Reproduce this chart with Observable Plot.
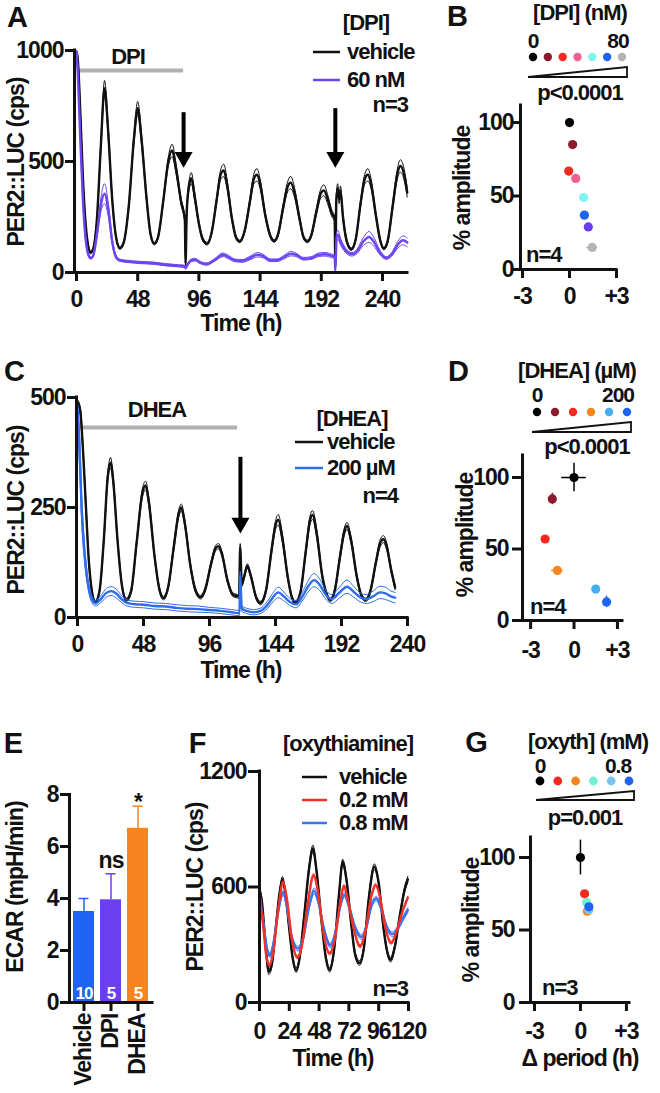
<!DOCTYPE html>
<html><head><meta charset="utf-8">
<script src="https://cdn.jsdelivr.net/npm/d3@7"></script>
<script src="https://cdn.jsdelivr.net/npm/@observablehq/plot@0.6"></script>
<style>
html,body{margin:0;padding:0;background:#fff;}
#fig{position:relative;width:660px;height:1093px;overflow:hidden;font-family:"Liberation Sans",Arial,Helvetica,sans-serif;font-weight:bold;letter-spacing:-1px;color:#111;}
.lbl{position:absolute;white-space:nowrap;line-height:1;}
</style>
</head><body><div id="fig"></div>
<script>
// ---------------- DATA ----------------
// Panel A: PER2::LUC (cps) over time (h); rows are [time, mean, sem]
const aVehicle = [
 [0,995,5],[1,960,10],[3,720,15],[5,430,12],[7,230,10],[9,125,8],[11,90,6],[13,105,6],[16,240,10],[19,560,20],
 [22,830,35],[25,620,25],[28,330,15],[31,160,8],[34,110,6],[37,135,6],[41,300,12],[45,600,20],[48,740,30],[51,600,25],
 [55,330,15],[58,175,8],[61,130,6],[64,160,8],[68,320,12],[72,500,20],[75,550,28],[78,470,22],[82,320,15],[85,235,10],
 [85.5,40,10],[86.5,280,15],[88.5,400,20],[90,425,25],[93,330,18],[96,220,10],[99,150,8],[102.5,130,6],[106,180,8],[110,330,15],
 [113,440,22],[115.5,460,28],[118,400,22],[122,240,12],[125,160,8],[128,140,6],[132,190,8],[136,320,15],[139,420,22],[141.5,440,28],
 [144,400,22],[148,260,12],[152,165,8],[155,142,6],[158,170,8],[162,290,15],[165.5,385,22],[168,405,28],[171,360,22],[175,240,12],
 [178,160,8],[181,140,6],[184,165,8],[188,270,14],[191.5,355,20],[194,370,25],[197,330,20],[200,270,15],[202.5,240,12],[203,30,10],
 [203.8,330,20],[204.8,380,20],[206,330,20],[207,370,20],[209,250,15],[212,140,8],[215.5,105,6],[219,150,8],[223,320,15],[226,420,22],
 [228.5,440,28],[231,400,22],[235,250,12],[238,150,8],[241,108,6],[244,140,8],[248,300,15],[251.5,440,22],[254,480,28],[257,440,25],
 [259.4,360,20]
];
const aDPI = [
 [0,995,5],[1,900,10],[3,600,15],[5,330,12],[7,160,10],[9,85,6],[11,65,5],[13,75,6],[16,170,12],[19,300,30],
 [22,355,45],[25,280,30],[28,140,15],[31,70,8],[34,55,5],[40,50,5],[50,45,5],[60,42,5],[70,35,5],[80,30,5],
 [85,28,5],[85.5,20,5],[87,35,5],[90,55,6],[93,58,6],[97,45,5],[102,38,5],[108,55,6],[115,80,8],[119,70,8],
 [124,55,6],[130,52,6],[136,65,8],[142,80,10],[146,75,8],[152,55,6],[157,55,6],[163,70,8],[168,85,10],[172,80,8],
 [178,62,6],[184,65,6],[190,80,8],[195,82,8],[200,75,8],[202.5,70,8],[203,10,5],[204,160,20],[205,170,20],[207,140,15],
 [211,100,10],[216,82,8],[220,95,10],[225,140,18],[229.5,160,25],[233,140,20],[238,90,10],[243,65,6],[247,80,8],[252,125,15],
 [256,145,20],[259.4,135,20]
];
const aTreatment = [{start: 0.8, end: 84, y: 910}];
const aArrows = [{t: 84, top: 720, tip: 472}, {t: 203, top: 738, tip: 472}];
const aTimeTicks = [0, 48, 96, 144, 192, 240];
const aCpsTicks = [0, 500, 1000];

// Panel B: Δ period (h) vs % amplitude for DPI doses
const bPeriod = [0.0, 0.2, -0.05, 0.4, 0.9, 0.95, 1.2, 1.45];
const bAmp = [100, 85, 67, 62, 49, 37, 29, 15];
const bPeriodErr = [0, 0, 0, 0, 0, 0, 0, 0.35];
const bAmpErr = [0, 0, 0, 0, 0, 0, 0, 0];
const bColors = ["#000000", "#8e1b2b", "#f2291f", "#f0608e", "#80f4f0", "#1f64f0", "#6b3ff0", "#b4b4b4"];
const bLegendColors = ["#000000", "#8e1b2b", "#f2291f", "#f0608e", "#80f4f0", "#1f64f0", "#b4b4b4"];

// Panel C
const cVehicle = [
 [0,490,5],[2,470,8],[4,380,10],[6,260,10],[8,140,8],[10,70,5],[13,35,4],[16,60,5],[19,170,8],[22,320,10],
 [24,352,12],[26,310,10],[29,180,8],[32,80,5],[35.5,40,4],[39,60,5],[43,170,8],[47,280,10],[49.5,300,10],[52,260,10],
 [56,140,6],[59.5,65,5],[62.5,44,4],[66,70,5],[70,160,8],[73.5,235,8],[75.5,250,8],[78,215,8],[82,120,6],[86,60,5],
 [89.5,46,4],[93,65,5],[97,120,6],[100.5,158,6],[102.5,162,6],[105,145,6],[109,85,5],[113,52,4],[117.5,48,4],[118.3,160,8],
 [119.5,75,5],[121,90,5],[123.5,117,5],[126,95,5],[130,45,4],[133,33,4],[137,60,5],[141,150,8],[144,210,10],[146,222,12],
 [149,180,10],[153,90,6],[156,45,4],[158.5,34,4],[162,55,5],[166,150,8],[169,220,10],[171,233,10],[174,190,10],[178,95,6],
 [181,55,4],[184,40,4],[187,60,5],[191,140,8],[194,195,8],[196,208,8],[199,175,8],[203,95,6],[206.5,50,4],[209.5,40,4],
 [213,60,5],[217,125,6],[220,168,8],[222.5,178,8],[225,160,8],[228,110,6],[231,68,5]
];
const cDHEA = [
 [0,470,20],[1.5,380,40],[3,250,30],[5,150,20],[7,90,12],[10,45,8],[13,32,6],[17,42,8],[21,56,10],[24.5,60,10],
 [28,55,10],[32,42,8],[36,33,7],[42,30,7],[48,29,7],[56,26,7],[64,25,7],[72,22,7],[80,20,7],[88,19,7],
 [96,17,6],[104,15,6],[112,12,6],[117.8,10,6],[118.3,95,10],[119.5,20,6],[123,15,6],[128,12,6],[133,15,6],[138,28,8],
 [142,45,10],[146,57,12],[150,48,10],[155,34,8],[159,30,8],[164,50,10],[168,72,13],[172,85,15],[176,75,13],[181,50,10],
 [185,42,10],[190,55,12],[196,70,15],[201,58,12],[206,45,10],[210,42,10],[215,48,12],[220,57,14],[224,55,14],[228,48,12],
 [231,45,12]
];
const cTreatment = [{start: 2.2, end: 116.4, y: 432}];
const cArrows = [{t: 118.5, top: 364, tip: 191}];
const cTimeTicks = [0, 48, 96, 144, 192, 240];
const cCpsTicks = [0, 250, 500];

// Panel D
const dPeriod = [0, -1.5, -2.0, -1.15, 1.5, 2.25];
const dAmp = [100, 85, 57, 35, 22, 13];
const dPeriodErr = [0.85, 0, 0, 0.4, 0, 0];
const dAmpErr = [10, 4, 0, 0, 0, 4];
const dColors = ["#000000", "#8e1b2b", "#f2291f", "#f7851f", "#45aef0", "#1f64f0"];

// Panel E: ECAR (mpH/min)
const eGroups = ["Vehicle", "DPI", "DHEA"];
const eMeans = [3.5, 3.95, 6.7];
const eErrs = [0.5, 1.0, 0.85];
const eN = [10, 5, 5];
const eSig = ["", "ns", "*"];
const eColors = ["#1f64f0", "#6b3ff0", "#f7851f"];

// Panel F: oxythiamine
const fVehicle = [
 [0,585,15],[2,520,15],[4.5,330,15],[7.5,160,15],[10,200,12],[13,380,15],[16,560,15],[18.5,640,15],[21,560,12],[24,380,12],
 [27,220,12],[29.5,168,12],[32,220,12],[36,450,15],[40,700,18],[43,800,18],[46,680,15],[50,420,12],[53.5,230,12],[56.5,170,12],
 [60,270,12],[64,560,15],[67,730,15],[70,640,12],[74,400,12],[77,250,12],[80.5,205,12],[84,280,12],[88,540,15],[92.5,705,15],
 [96,620,12],[100,380,12],[103,260,12],[105.5,222,12],[109,290,12],[113,450,12],[117,590,15],[119.5,640,15]
];
const fLow = [
 [0,560,8],[3,400,8],[5.5,240,8],[8,195,8],[11,260,8],[15,480,8],[19,625,8],[22,540,8],[26,330,8],[30.5,235,8],
 [34,290,8],[39,520,8],[43.5,660,10],[47,580,8],[51,380,8],[56.5,255,8],[61,340,8],[65,520,8],[68,605,8],[71,540,8],
 [76,380,8],[81,292,8],[85,360,8],[90,550,8],[93.5,610,8],[97,550,8],[101,400,8],[106,310,8],[110,360,8],[115,470,8],
 [119.5,545,8]
];
const fHigh = [
 [0,560,10],[3,420,10],[6,280,12],[8.5,245,12],[11,300,12],[15,470,12],[19,570,12],[22,500,12],[26,340,12],[31,280,12],
 [35,330,12],[40,500,12],[44,580,15],[47.5,520,12],[52,380,12],[57,296,12],[61,360,12],[65,500,12],[68.5,560,12],[72,500,12],
 [77,390,12],[82,340,12],[86,390,12],[90,500,12],[94,540,12],[98,490,12],[102,400,12],[107,355,12],[111,380,12],[115,430,12],
 [119.5,480,12]
];
const fTimeTicks = [0, 24, 48, 72, 96, 120];
const fCpsTicks = [0, 600, 1200];

// Panel G
const gPeriod = [0, 0.27, 0.4, 0.45, 0.55, 0.55];
const gAmp = [100, 75, 69, 63, 64, 66];
const gPeriodErr = [0, 0, 0, 0, 0, 0];
const gAmpErr = [12, 0, 0, 0, 0, 0];
const gColors = ["#000000", "#f2291f", "#72f0d2", "#f7851f", "#7ec2f0", "#1f64f0"];
const gLegendColors = ["#000000", "#f2291f", "#f7851f", "#72f0d2", "#7ec2f0", "#1f64f0"];

const periodTicks = [-3, 0, 3];
const ampTicks = [0, 50, 100];
const ecarTicks = [0, 2, 4, 6, 8];

// ---------------- HELPERS ----------------
const FONT = "'Liberation Sans', Arial, Helvetica, sans-serif";
const PURPLE = "#6c45f0", DBLUE = "#2f6ee8", FRED = "#f03228", FBLUE = "#3a74f0";
const fig = document.getElementById("fig");
const baseStyle = {fontFamily: FONT, fontWeight: "bold", letterSpacing: "-1px", background: "transparent", overflow: "visible", color: "#111"};

function txt(s, x, y, {size = 22, anchor = "middle", rotate = 0, color = "#111"} = {}) {
  const d = document.createElement("div");
  d.className = "lbl";
  d.textContent = s;
  d.style.fontSize = size + "px";
  d.style.color = color;
  d.style.left = x + "px";
  d.style.top = y + "px";
  const tx = anchor === "start" ? "0%" : anchor === "end" ? "-100%" : "-50%";
  d.style.transform = `translate(${tx},-50%)` + (rotate ? ` rotate(${rotate}deg)` : "");
  fig.appendChild(d);
}
function place(svg, left, top) {
  svg.style.position = "absolute";
  svg.style.left = left + "px";
  svg.style.top = top + "px";
  fig.appendChild(svg);
}
const rows = arr => arr.map(([t, m, s]) => ({t, m, lo: m - s, hi: m + s}));
function band(arr, color, wMean = 2.4, wSem = 1) {
  const data = rows(arr);
  return [
    Plot.line(data, {x: "t", y: "lo", stroke: color, strokeWidth: wSem, curve: "monotone-x"}),
    Plot.line(data, {x: "t", y: "hi", stroke: color, strokeWidth: wSem, curve: "monotone-x"}),
    Plot.line(data, {x: "t", y: "m", stroke: color, strokeWidth: wMean, curve: "monotone-x"})
  ];
}
function frameAxes(xmin, ymin, xo, yo) {
  return [
    Plot.ruleX([xmin], {strokeWidth: 3, strokeLinecap: "square"}),
    Plot.ruleY([ymin], {strokeWidth: 3, strokeLinecap: "square"}),
    Plot.axisX({ticks: xo.ticks, label: null, tickSize: xo.size ?? 9, tickPadding: xo.pad ?? 9, strokeWidth: 3, fontSize: 23, fontWeight: "bold", tickFormat: xo.fmt ?? (d => String(d))}),
    Plot.axisY({ticks: yo.ticks, label: null, tickSize: yo.size ?? 9, tickPadding: yo.pad ?? 2, strokeWidth: 3, fontSize: 23, fontWeight: "bold", tickFormat: yo.fmt ?? (d => String(d))})
  ];
}
const periodFmt = d => d > 0 ? "+" + d : d < 0 ? "-" + Math.abs(d) : "0";
function arrowMarks(arr) {
  return [
    Plot.ruleX(arr, {x: "t", y1: "top", y2: "tip", strokeWidth: 4, stroke: "#000", insetBottom: 6}),
    Plot.dot(arr, {x: "t", y: "tip", symbol: "triangle", rotate: 180, r: 6.7, fill: "#000", stroke: "none", dy: -10.4})
  ];
}
function scatter(period, amp, pErr, aErr, colors) {
  const data = period.map((p, i) => ({p, a: amp[i], pe: pErr[i], ae: aErr[i], c: colors[i]}));
  return [
    Plot.ruleY(data.filter(d => d.pe > 0), {y: "a", x1: d => d.p - d.pe, x2: d => d.p + d.pe, stroke: "c", strokeWidth: 1.5}),
    Plot.ruleX(data.filter(d => d.ae > 0), {x: "p", y1: d => d.a - d.ae, y2: d => d.a + d.ae, stroke: "c", strokeWidth: 1.5}),
    Plot.dot(data, {x: "p", y: "a", fill: "c", r: 4.6})
  ];
}

// ---------------- PANEL A ----------------
const aX = [-1.57, 259.6];
place(Plot.plot({
  width: 420, height: 335, marginLeft: 74, marginRight: 13, marginTop: 50, marginBottom: 63,
  style: baseStyle,
  x: {domain: aX, label: null}, y: {domain: [0, 1000], label: null},
  marks: [
    Plot.ruleY(aTreatment, {y: "y", x1: "start", x2: "end", stroke: "#b0b0b0", strokeWidth: 4}),
    ...band(aVehicle, "#111"),
    ...band(aDPI, PURPLE),
    ...arrowMarks(aArrows),
    ...frameAxes(aX[0], 0, {ticks: aTimeTicks}, {ticks: aCpsTicks})
  ]
}), 0, 0);

// ---------------- PANEL B ----------------
const bX = [-3.13, 3];
place(Plot.plot({
  width: 240, height: 335, marginLeft: 100, marginRight: 44, marginTop: 105, marginBottom: 66,
  style: baseStyle,
  color: {type: "identity"},
  x: {domain: bX, label: null}, y: {domain: [0, 111.6], label: null},
  marks: [
    ...scatter(bPeriod, bAmp, bPeriodErr, bAmpErr, bColors),
    ...frameAxes(bX[0], 0, {ticks: periodTicks, fmt: periodFmt, pad: 9}, {ticks: ampTicks, size: 7, pad: 0})
  ]
}), 420, 0);

// ---------------- PANEL C ----------------
const cX = [-0.73, 240];
place(Plot.plot({
  width: 420, height: 335, marginLeft: 76, marginRight: 13, marginTop: 62, marginBottom: 53,
  style: baseStyle,
  x: {domain: cX, label: null}, y: {domain: [0, 500], label: null},
  marks: [
    Plot.ruleY(cTreatment, {y: "y", x1: "start", x2: "end", stroke: "#b0b0b0", strokeWidth: 4}),
    ...band(cVehicle, "#111"),
    ...band(cDHEA, DBLUE),
    ...arrowMarks(cArrows),
    ...frameAxes(cX[0], 0, {ticks: cTimeTicks}, {ticks: cCpsTicks})
  ]
}), 0, 335);

// ---------------- PANEL D ----------------
const dX = [-3.56, 3.35];
place(Plot.plot({
  width: 240, height: 335, marginLeft: 102, marginRight: 38, marginTop: 120, marginBottom: 50,
  style: baseStyle,
  color: {type: "identity"},
  x: {domain: dX, label: null}, y: {domain: [0, 115.4], label: null},
  marks: [
    ...scatter(dPeriod, dAmp, dPeriodErr, dAmpErr, dColors),
    ...frameAxes(dX[0], 0, {ticks: periodTicks, fmt: periodFmt, pad: 12}, {ticks: ampTicks, size: 10, pad: 4})
  ]
}), 420, 335);

// ---------------- PANEL E ----------------
const eData = eGroups.map((g, i) => ({g, m: eMeans[i], e: eErrs[i], n: eN[i], s: eSig[i], c: eColors[i]}));
place(Plot.plot({
  width: 200, height: 393, marginLeft: 69, marginRight: 48, marginTop: 94, marginBottom: 91,
  style: baseStyle,
  color: {type: "identity"},
  x: {domain: eGroups, paddingInner: 0.22, paddingOuter: 0.1, label: null},
  y: {domain: [0, 8], label: null},
  marks: [
    Plot.ruleX(eData, {x: "g", y1: "m", y2: d => d.m + d.e, stroke: "c", strokeWidth: 1.5}),
    Plot.tickY(eData, {x: "g", y: d => d.m + d.e, stroke: "c", strokeWidth: 1.5, inset: 5.5}),
    Plot.barY(eData, {x: "g", y: "m", fill: "c"}),
    Plot.text(eData, {x: "g", y: 0, text: d => String(d.n), fill: "white", fontSize: 17, fontWeight: "bold", dy: -9}),
    Plot.text(eData.filter(d => d.s === "ns"), {x: "g", y: d => d.m + d.e, text: "s", fontSize: 23, fontWeight: "bold", dy: -13}),
    Plot.text(eData.filter(d => d.s === "*"), {x: "g", y: d => d.m + d.e, text: "s", fontSize: 23, fontWeight: "bold", dy: -4}),
    Plot.ruleY([0], {strokeWidth: 3, strokeLinecap: "square"}),
    Plot.frame({anchor: "left", strokeWidth: 3}),
    Plot.axisX({tickRotate: -90, label: null, tickSize: 9, tickPadding: 2, strokeWidth: 3, fontSize: 23, fontWeight: "bold"}),
    Plot.axisY({ticks: ecarTicks, label: null, tickSize: 9, tickPadding: 2, strokeWidth: 3, fontSize: 23, fontWeight: "bold"})
  ]
}), 0, 700);

// ---------------- PANEL F ----------------
const fX = [0, 120];
place(Plot.plot({
  width: 250, height: 393, marginLeft: 79, marginRight: 22, marginTop: 71, marginBottom: 91,
  style: baseStyle,
  x: {domain: fX, label: null}, y: {domain: [0, 1200], label: null},
  marks: [
    ...band(fVehicle, "#111"),
    ...band(fHigh, FBLUE),
    ...band(fLow, FRED),
    ...frameAxes(fX[0], 0, {ticks: fTimeTicks, pad: 11}, {ticks: fCpsTicks, size: 11, pad: 2})
  ]
}), 180, 700);

// ---------------- PANEL G ----------------
const gX = [-3.26, 3.2];
place(Plot.plot({
  width: 230, height: 393, marginLeft: 100, marginRight: 31, marginTop: 137, marginBottom: 91,
  style: baseStyle,
  color: {type: "identity"},
  x: {domain: gX, label: null}, y: {domain: [0, 113.8], label: null},
  marks: [
    ...scatter(gPeriod, gAmp, gPeriodErr, gAmpErr, gColors),
    ...frameAxes(gX[0], 0, {ticks: periodTicks, fmt: periodFmt, pad: 11}, {ticks: ampTicks, size: 11, pad: 5})
  ]
}), 430, 700);

// ---------------- TEXT, LEGENDS ----------------
// panel letters
txt("A", 17, 17, {size: 29});
txt("B", 457, 16, {size: 29});
txt("C", 14, 371, {size: 29});
txt("D", 458, 371, {size: 29});
txt("E", 13, 743, {size: 29});
txt("F", 197, 743, {size: 29});
txt("G", 476, 742, {size: 29});

// axis titles
txt("PER2::LUC (cps)", 16, 162, {size: 23, rotate: -90});
txt("Time (h)", 241, 323, {size: 23});
txt("% amplitude", 462, 188, {size: 23, rotate: -90});
txt("PER2::LUC (cps)", 16, 510, {size: 23, rotate: -90});
txt("Time (h)", 241, 670, {size: 23});
txt("% amplitude", 465, 535, {size: 23, rotate: -90});
txt("ECAR (mpH/min)", 15, 887, {size: 23, rotate: -90});
txt("PER2::LUC (cps)", 195, 887, {size: 23, rotate: -90});
txt("Time (h)", 333, 1058, {size: 23});
txt("% amplitude", 471, 920, {size: 23, rotate: -90});
txt("\u0394 period (h)", 580, 1058, {size: 23});

// in-panel labels A
txt("DPI", 128, 57, {size: 22});
txt("[DPI]", 366, 23, {size: 22});
txt("vehicle", 347, 52, {size: 22, anchor: "start"});
txt("60 nM", 347, 80, {size: 22, anchor: "start"});
txt("n=3", 408, 105, {size: 22, anchor: "end"});
// B
txt("[DPI] (nM)", 580, 13, {size: 22});
txt("0", 533, 40, {size: 21});
txt("80", 618, 40, {size: 21});
txt("p<0.0001", 580, 93, {size: 22});
txt("n=4", 526, 255, {size: 22, anchor: "start"});
// C
txt("DHEA", 157, 410, {size: 22});
txt("[DHEA]", 352, 419, {size: 22});
txt("vehicle", 327, 442, {size: 22, anchor: "start"});
txt("200 \u00b5M", 327, 468, {size: 22, anchor: "start"});
txt("n=4", 398, 496, {size: 22, anchor: "end"});
// D
txt("[DHEA] (\u00b5M)", 577, 371, {size: 22});
txt("0", 537, 394, {size: 21});
txt("200", 618, 394, {size: 21});
txt("p<0.0001", 587, 447, {size: 22});
txt("n=4", 530, 607, {size: 22, anchor: "start"});
// F
txt("[oxythiamine]", 348, 744, {size: 22});
txt("vehicle", 339, 777, {size: 22, anchor: "start"});
txt("0.2 mM", 339, 800, {size: 22, anchor: "start"});
txt("0.8 mM", 339, 823, {size: 22, anchor: "start"});
txt("n=3", 408, 989, {size: 22, anchor: "end"});
// G
txt("[oxyth] (mM)", 588, 742, {size: 22});
txt("0", 540, 765, {size: 21});
txt("0.8", 618, 765, {size: 21});
txt("p=0.001", 585, 818, {size: 22});
txt("n=3", 542, 988, {size: 22, anchor: "start"});

// legend graphics overlay
const ov = d3.select(fig).append("svg")
  .attr("width", 660).attr("height", 1093)
  .style("position", "absolute").style("left", 0).style("top", 0).style("pointer-events", "none");
function seg(x1, x2, y, color) {
  ov.append("line").attr("x1", x1).attr("x2", x2).attr("y1", y).attr("y2", y)
    .attr("stroke", color).attr("stroke-width", 2.5);
}
function dotRow(colors, x0, x1, y, r) {
  const step = (x1 - x0) / (colors.length - 1);
  colors.forEach((c, i) => ov.append("circle").attr("cx", x0 + i * step).attr("cy", y).attr("r", r).attr("fill", c));
}
function wedge(x0, x1, yBase, yTop) {
  ov.append("polygon").attr("points", `${x0},${yBase} ${x1},${yTop} ${x1},${yBase}`)
    .attr("fill", "white").attr("stroke", "#111").attr("stroke-width", 1.8).attr("stroke-linejoin", "miter");
}
seg(313, 340, 52, "#111"); seg(313, 340, 80, PURPLE);
seg(295, 323, 442, "#111"); seg(295, 323, 468, DBLUE);
seg(302, 327, 777, "#111"); seg(302, 327, 800, FRED); seg(302, 327, 823, FBLUE);
dotRow(bLegendColors, 533, 622, 57, 4.2); wedge(528, 627, 77, 67);
dotRow(dColors, 537, 627, 412, 4.2); wedge(532, 631, 432, 422);
dotRow(gLegendColors, 540, 629, 781, 4.4); wedge(536, 634, 800, 791);
</script></body></html>
